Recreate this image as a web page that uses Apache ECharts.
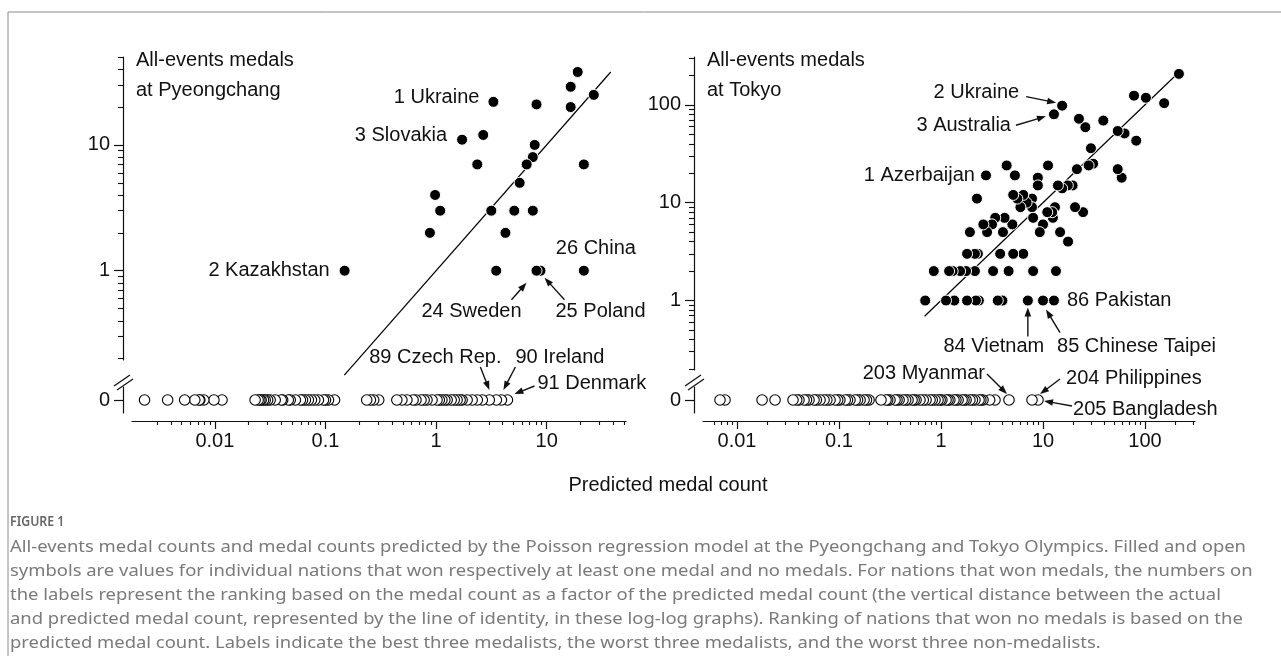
<!DOCTYPE html>
<html><head><meta charset="utf-8">
<script src="https://cdn.jsdelivr.net/npm/echarts@6/dist/echarts.min.js"></script>
<style>html,body{margin:0;padding:0;background:#fff}#c{width:1281px;height:666px}</style>
</head><body><div id="c"></div>
<script>
// ---------------- DATA ----------------
// Pyeongchang: nations with at least one medal (predicted, actual)
const pyeMedalPred  = [19.1, 16.5, 26.7, 8.1, 16.5, 3.3, 2.67, 1.72, 7.8, 7.5, 6.6, 21.7, 2.36, 5.7, 0.98, 1.09, 3.16, 5.1, 7.5, 0.88, 4.24, 0.149, 3.5, 8.1, 8.8, 21.7];
const pyeMedalCount = [38, 29, 25, 21, 20, 22, 12, 11, 10, 8, 7, 7, 7, 5, 4, 3, 3, 3, 3, 2, 2, 1, 1, 1, 1, 1];
// Pyeongchang: nations with no medal (predicted)
const pyeZeroPred = [0.00231, 0.00374, 0.00533, 0.00658, 0.00731, 0.00794, 0.0098, 0.0116,
  0.0231, 0.0246, 0.0262, 0.0285, 0.0316, 0.0351, 0.0398, 0.0461, 0.0534, 0.0593, 0.0658, 0.0746, 0.0863, 0.0959, 0.1065, 0.1208,
  0.236, 0.273, 0.303, 0.442, 0.491, 0.545, 0.658, 0.731, 0.828, 0.920, 1.02, 1.13, 1.26, 1.37, 1.46, 1.55, 1.72, 1.91, 2.12, 2.36, 2.62, 3.03, 3.51, 3.90, 4.42,
  0.0072, 0.0255, 0.0275, 0.030, 0.041, 0.048, 0.062, 0.070, 0.080, 0.100, 0.255, 0.62, 0.78, 1.07, 1.2, 1.65];
// Tokyo: nations with at least one medal (predicted, actual)
const tokMedalPred  = [215, 78, 102, 154, 15.4, 12.8, 22.5, 26, 39, 54, 63, 82, 29.5, 28, 31, 21.5, 54, 59, 15.4, 17.5, 19.5, 11.2, 8.9, 8.9, 4.4, 5.3, 2.76, 2.25, 5.1, 6.4, 7.8, 6.0, 7.8, 13.1, 12.3, 20.6, 24.7, 4.2, 5.0, 8.0, 3.16, 2.83, 1.92, 4.05, 10, 9.3, 12.5, 14.7, 17.6, 1.8, 2.15, 3.8, 5.1, 6.4, 0.85, 1.2, 1.54, 1.76, 2.15, 3.24, 4.6, 8.0, 13.4, 0.70, 1.12, 1.35, 1.8, 2.2, 2.35, 3.6, 4.0, 7.1, 10, 12.8,
  5.6, 6.9, 11, 2.6, 3.4, 1.3, 2.3, 14];
const tokMedalCount = [207, 124, 118, 104, 98, 80, 72, 59, 69, 54, 51, 43, 36, 24, 25, 22, 22, 18, 14, 15, 15, 24, 18, 15, 24, 19, 19, 11, 12, 12, 11, 9, 9, 9, 8, 9, 8, 7, 6, 7, 6, 5, 5, 5, 6, 5, 7, 5, 4, 3, 3, 3, 3, 3, 2, 2, 2, 2, 2, 2, 2, 2, 2, 1, 1, 1, 1, 1, 1, 1, 1, 1, 1, 1,
  11, 10, 8, 6, 7, 2, 3, 15];
// Tokyo: nations with no medal (predicted)
const tokZeroPred = [0.00681, 0.00763, 0.0176, 0.0236, 0.0354, 0.0405, 0.0454, 0.0508, 0.0569, 0.0652, 0.0713, 0.0816, 0.0914, 0.102, 0.115, 0.128, 0.144, 0.161, 0.176, 0.197,
  0.258, 0.289, 0.316, 0.354, 0.388, 0.424, 0.475, 0.520, 0.569, 0.622, 0.713, 0.780, 0.873, 0.935, 1.02, 1.12, 1.22, 1.34, 1.47, 1.61, 1.76, 1.92, 2.15, 2.36, 2.58, 3.38, 4.64, 7.80, 8.93,
  0.0385, 0.048, 0.060, 0.076, 0.097, 0.121, 0.152, 0.186, 0.30, 0.37, 0.45, 0.545, 0.67, 0.82, 0.98, 1.17, 1.40, 1.68, 2.03, 2.46, 3.0];
// line of identity (start, end)
const pyeIdentity = [0.148, 38];
const tokIdentity = [0.69, 215];
// axis ranges
const pyeXRange = [0.00178, 52.2];
const pyeYRange = [0.195, 50];
const tokXRange = [0.00464, 309];
const tokYRange = [0.195, 308];
// ticks
const pyeXTicks = [0.01, 0.1, 1, 10];
const pyeXTickLabels = ['0.01', '0.1', '1', '10'];
const tokXTicks = [0.01, 0.1, 1, 10, 100];
const tokXTickLabels = ['0.01', '0.1', '1', '10', '100'];
const pyeYTicks = [1, 10];
const pyeYTickLabels = ['1', '10'];
const tokYTicks = [1, 10, 100];
const tokYTickLabels = ['1', '10', '100'];
const zeroTicks = [0];
const zeroTickLabels = ['0'];
const pyeXMinor = [0.003,0.004,0.005,0.006,0.007,0.008,0.009,0.02,0.03,0.04,0.05,0.06,0.07,0.08,0.09,0.2,0.3,0.4,0.5,0.6,0.7,0.8,0.9,2,3,4,5,6,7,8,9,20,30,40,50];
const tokXMinor = [0.006,0.007,0.008,0.009,0.02,0.03,0.04,0.05,0.06,0.07,0.08,0.09,0.2,0.3,0.4,0.5,0.6,0.7,0.8,0.9,2,3,4,5,6,7,8,9,20,30,40,50,60,70,80,90,200,300];
const pyeYMinor = [0.2,0.3,0.4,0.5,0.6,0.7,0.8,0.9,2,3,4,5,6,7,8,9,20,30,40,50];
const tokYMinor = [0.2,0.3,0.4,0.5,0.6,0.7,0.8,0.9,2,3,4,5,6,7,8,9,20,30,40,50,60,70,80,90,200,300];
// texts
const titlePye = ['All-events medals', 'at Pyeongchang'];
const titleTok = ['All-events medals', 'at Tokyo'];
const xTitle = 'Predicted medal count';
const figLabel = 'FIGURE 1';
const captionLines = [
  'All-events medal counts and medal counts predicted by the Poisson regression model at the Pyeongchang and Tokyo Olympics. Filled and open',
  'symbols are values for individual nations that won respectively at least one medal and no medals. For nations that won medals, the numbers on',
  'the labels represent the ranking based on the medal count as a factor of the predicted medal count (the vertical distance between the actual',
  'and predicted medal count, represented by the line of identity, in these log-log graphs). Ranking of nations that won no medals is based on the',
  'predicted medal count. Labels indicate the best three medalists, the worst three medalists, and the worst three non-medalists.'
];
// annotations: which point, label text
const pyeLabels = [
  {set: 'medal', i: 5, text: '1 Ukraine'},
  {set: 'medal', i: 7, text: '3 Slovakia'},
  {set: 'medal', i: 21, text: '2 Kazakhstan'},
  {set: 'medal', i: 25, text: '26 China'},
  {set: 'medal', i: 23, text: '24 Sweden'},
  {set: 'medal', i: 24, text: '25 Poland'},
  {set: 'zero', i: 46, text: '89 Czech Rep.'},
  {set: 'zero', i: 47, text: '90 Ireland'},
  {set: 'zero', i: 48, text: '91 Denmark'}
];
const tokLabels = [
  {set: 'medal', i: 4, text: '2 Ukraine'},
  {set: 'medal', i: 5, text: '3 Australia'},
  {set: 'medal', i: 26, text: '1 Azerbaijan'},
  {set: 'medal', i: 73, text: '86 Pakistan'},
  {set: 'medal', i: 71, text: '84 Vietnam'},
  {set: 'medal', i: 72, text: '85 Chinese Taipei'},
  {set: 'zero', i: 46, text: '203 Myanmar'},
  {set: 'zero', i: 47, text: '204 Philippines'},
  {set: 'zero', i: 48, text: '205 Bangladesh'}
];

// ---------------- STYLE / LAYOUT ----------------
function hasFont(name) {
  const ctx = document.createElement('canvas').getContext('2d');
  const s = 'abcdefghijklmKLMNOPQ 0123456789';
  ctx.font = '40px monospace';
  const w0 = ctx.measureText(s).width;
  ctx.font = "40px '" + name + "', monospace";
  return Math.abs(ctx.measureText(s).width - w0) > 0.5;
}
const narrow = hasFont('Liberation Sans Narrow');
const FONT = narrow ? 'Liberation Sans Narrow' : 'Liberation Sans';
const FS = narrow ? 23 : 20;
const CAPFONT = hasFont('Noto Sans') ? 'Noto Sans' : 'Liberation Sans';
const INK = '#111';

// layout (layout positions, not data)
const L = {left: 132, width: 494, top: 57, height: 303, zTop: 387, zH: 26};
const R = {left: 703, width: 492, top: 57, height: 313, zTop: 387, zH: 26};
const YOFF = 9, XOFF = 8;

function fmt(ticks, labels) {
  return function (v) {
    for (let k = 0; k < ticks.length; k++) if (Math.abs(v - ticks[k]) <= Math.abs(ticks[k]) * 1e-6 + 1e-12) return labels[k];
    return '';
  };
}
const labelStyle = {fontFamily: FONT, fontSize: FS, color: INK};

function logX(grid, range, ticks, labels, minor, show) {
  const base = {type: 'log', logBase: 10, gridIndex: grid, min: range[0], max: range[1], splitLine: {show: false}};
  if (!show) return [Object.assign({}, base, {show: false})];
  return [
    Object.assign({}, base, {position: 'bottom', offset: XOFF,
      axisLine: {show: true, onZero: false, lineStyle: {color: INK, width: 1.2}},
      axisTick: {show: true, inside: false, length: 8, customValues: ticks, lineStyle: {color: INK, width: 1.2}},
      axisLabel: {show: true, customValues: ticks, formatter: fmt(ticks, labels), margin: 10, ...labelStyle},
      minorTick: {show: false}}),
    Object.assign({}, base, {position: 'bottom', offset: XOFF,
      axisLine: {show: false, onZero: false},
      axisTick: {show: true, inside: false, length: 4, customValues: minor, lineStyle: {color: INK, width: 1.1}},
      axisLabel: {show: false}})
  ];
}
function logY(grid, range, ticks, labels, minor) {
  const base = {type: 'log', logBase: 10, gridIndex: grid, min: range[0], max: range[1], position: 'left', offset: YOFF, splitLine: {show: false}};
  return [
    Object.assign({}, base, {
      axisLine: {show: true, onZero: false, lineStyle: {color: INK, width: 1.2}},
      axisTick: {show: true, inside: false, length: 9, customValues: ticks, lineStyle: {color: INK, width: 1.2}},
      axisLabel: {show: true, customValues: ticks, formatter: fmt(ticks, labels), margin: 13, ...labelStyle}}),
    Object.assign({}, base, {
      axisLine: {show: false, onZero: false},
      axisTick: {show: true, inside: false, length: 5, customValues: minor, lineStyle: {color: INK, width: 1.1}},
      axisLabel: {show: false}})
  ];
}
function zeroY(grid) {
  return {type: 'value', gridIndex: grid, min: -1, max: 1, position: 'left', offset: YOFF, splitLine: {show: false},
    axisLine: {show: true, onZero: false, lineStyle: {color: INK, width: 1.2}},
    axisTick: {show: true, inside: false, length: 9, customValues: zeroTicks, lineStyle: {color: INK, width: 1.2}},
    axisLabel: {show: true, customValues: zeroTicks, formatter: fmt(zeroTicks, zeroTickLabels), margin: 13, ...labelStyle}};
}

const grids = [
  {left: L.left, top: L.top, width: L.width, height: L.height},
  {left: L.left, top: L.zTop, width: L.width, height: L.zH},
  {left: R.left, top: R.top, width: R.width, height: R.height},
  {left: R.left, top: R.zTop, width: R.width, height: R.zH}
].map(g => Object.assign({outerBoundsMode: 'none', containLabel: false, show: false}, g));

// xAxis indices: 0 pye top, 1 pye bottom major, 2 pye bottom minor, 3 tok top, 4 tok bottom major, 5 tok bottom minor
const xAxes = [
  ...logX(0, pyeXRange, null, null, null, false),
  ...logX(1, pyeXRange, pyeXTicks, pyeXTickLabels, pyeXMinor, true),
  ...logX(2, tokXRange, null, null, null, false),
  ...logX(3, tokXRange, tokXTicks, tokXTickLabels, tokXMinor, true)
];
// yAxis indices: 0 pye top major, 1 pye top minor, 2 pye zero, 3 tok top major, 4 tok top minor, 5 tok zero
const yAxes = [
  ...logY(0, pyeYRange, pyeYTicks, pyeYTickLabels, pyeYMinor),
  zeroY(1),
  ...logY(2, tokYRange, tokYTicks, tokYTickLabels, tokYMinor),
  zeroY(3)
];

function pairs(xs, ys) { return xs.map((x, k) => [x, ys[k]]).sort((a, b) => b[0] - a[0]); }
function zeros(xs) { return xs.map(x => [x, 0]).sort((a, b) => b[0] - a[0]); }
const filledStyle = {color: '#000', borderColor: '#fff', borderWidth: 1, opacity: 1};
const openStyle = {color: '#fff', borderColor: '#000', borderWidth: 1.1, opacity: 1};

const series = [
  {type: 'line', xAxisIndex: 0, yAxisIndex: 0, data: pyeIdentity.map(v => [v, v]), symbol: 'none', clip: false, silent: true, z: 1,
    lineStyle: {color: '#000', width: 1.2}},
  {type: 'scatter', xAxisIndex: 0, yAxisIndex: 0, data: pairs(pyeMedalPred, pyeMedalCount), symbolSize: 11, itemStyle: filledStyle, silent: true, z: 3},
  {type: 'scatter', xAxisIndex: 1, yAxisIndex: 2, data: zeros(pyeZeroPred), symbolSize: 10.5, itemStyle: openStyle, silent: true, z: 3},
  {type: 'line', xAxisIndex: 3, yAxisIndex: 3, data: tokIdentity.map(v => [v, v]), symbol: 'none', clip: false, silent: true, z: 1,
    lineStyle: {color: '#000', width: 1.2}},
  {type: 'scatter', xAxisIndex: 3, yAxisIndex: 3, data: pairs(tokMedalPred, tokMedalCount), symbolSize: 11, itemStyle: filledStyle, silent: true, z: 3},
  {type: 'scatter', xAxisIndex: 4, yAxisIndex: 5, data: zeros(tokZeroPred), symbolSize: 10.5, itemStyle: openStyle, silent: true, z: 3}
];

const chart = echarts.init(document.getElementById('c'), null, {renderer: 'canvas'});
chart.setOption({animation: false, backgroundColor: '#fff', grid: grids, xAxis: xAxes, yAxis: yAxes, series: series});

// ---------------- ANNOTATIONS ----------------
// label placement offsets (pixels) relative to the labelled point: [textDx, textDy, align, tailDx, tailDy, tipDx, tipDy]
const pyeOffsets = [
  [-14, -4, 'right'], [-15, -4, 'right'], [-15, 0, 'right'], [-28, -22, 'left'],
  [-65, 41, 'center', -25, 29, -10, 12], [15, 41, 'left', 24, 29, 4, 7],
  [-61, -43, 'center', -16, -33, -7, -10], [14, -43, 'left', 14, -33, 2, -10], [30, -17, 'left', 27, -14, 7, -6]
];
const tokOffsets = [
  [-43, -13, 'right', -36, -9, -6, -3], [-43, 11, 'right', -38, 11, -8, 2], [-11, 0, 'right'], [13, 0, 'left'],
  [-34, 46, 'center', 0, 36, 0, 7], [14, 46, 'left', 17, 32, 3, 9],
  [-24, -27, 'right', -22, -26, -2, -6], [34, -22, 'left', 28, -21, 8, -6], [35, 9, 'left', 34, 6, 6, 1]
];
const g = [];
function txt(x, y, s, align, font, size, color, weight, sx) {
  g.push({type: 'text', x: x, y: y, scaleX: sx || 1, silent: true, z: 10, style: {text: s, textAlign: align || 'left', textVerticalAlign: 'middle',
    fontFamily: font || FONT, fontSize: size || FS, fill: color || INK, fontWeight: weight || 'normal'}});
}
function line(x1, y1, x2, y2, w, c) {
  g.push({type: 'line', silent: true, z: 10, shape: {x1: x1, y1: y1, x2: x2, y2: y2}, style: {stroke: c || INK, lineWidth: w || 1.3}});
}
function arrow(x1, y1, x2, y2) {
  const Lh = 9, W = 3.3;
  const dx = x2 - x1, dy = y2 - y1, d = Math.hypot(dx, dy), ux = dx / d, uy = dy / d;
  const bx = x2 - ux * Lh, by = y2 - uy * Lh;
  line(x1, y1, bx + ux, by + uy, 1.4);
  g.push({type: 'polygon', silent: true, z: 10, shape: {points: [[x2, y2], [bx - uy * W, by + ux * W], [bx + uy * W, by - ux * W]]}, style: {fill: INK}});
}
function annotate(labels, offsets, medalX, medalY, zeroX, topIdx, botIdx) {
  labels.forEach((lb, k) => {
    const o = offsets[k];
    const p = lb.set === 'medal'
      ? chart.convertToPixel({xAxisIndex: topIdx[0], yAxisIndex: topIdx[1]}, [medalX[lb.i], medalY[lb.i]])
      : chart.convertToPixel({xAxisIndex: botIdx[0], yAxisIndex: botIdx[1]}, [zeroX[lb.i], 0]);
    txt(p[0] + o[0], p[1] + o[1], lb.text, o[2]);
    if (o.length > 3) arrow(p[0] + o[3], p[1] + o[4], p[0] + o[5], p[1] + o[6]);
  });
}
annotate(pyeLabels, pyeOffsets, pyeMedalPred, pyeMedalCount, pyeZeroPred, [0, 0], [1, 2]);
annotate(tokLabels, tokOffsets, tokMedalPred, tokMedalCount, tokZeroPred, [3, 3], [4, 5]);

// panel titles
txt(L.left + 4, 60, titlePye[0], 'left'); txt(L.left + 4, 90, titlePye[1], 'left');
txt(R.left + 4, 60, titleTok[0], 'left'); txt(R.left + 4, 90, titleTok[1], 'left');
txt(668, 485, xTitle, 'center');
// axis break marks
[[L, L.left - YOFF], [R, R.left - YOFF]].forEach(([P, ax]) => {
  const yc = 382;
  line(ax - 9, yc + 4, ax + 7, yc - 7, 1.3);
  line(ax - 6, yc + 8, ax + 10, yc - 3, 1.3);
});
// frame
line(8, 12, 1281, 12, 1, '#8a8a8a');
line(8, 12, 8, 656, 1, '#8a8a8a');
// caption
txt(10, 522, figLabel, 'left', CAPFONT, 14, '#666', '600', 0.88);
(function () {
  const ctx = document.createElement('canvas').getContext('2d');
  const size = 17;
  ctx.font = size + "px '" + CAPFONT + "'";
  const w = ctx.measureText(captionLines[0]).width;
  const sx = 1236 / w;
  captionLines.forEach((s, k) => {
    g.push({type: 'text', x: 10, y: 547 + k * 24, scaleX: sx, scaleY: 1, silent: true, z: 10,
      style: {text: s, textAlign: 'left', textVerticalAlign: 'middle', fontFamily: CAPFONT, fontSize: size, fill: '#7a7a7a'}});
  });
})();
chart.setOption({graphic: {elements: g}});
</script></body></html>
